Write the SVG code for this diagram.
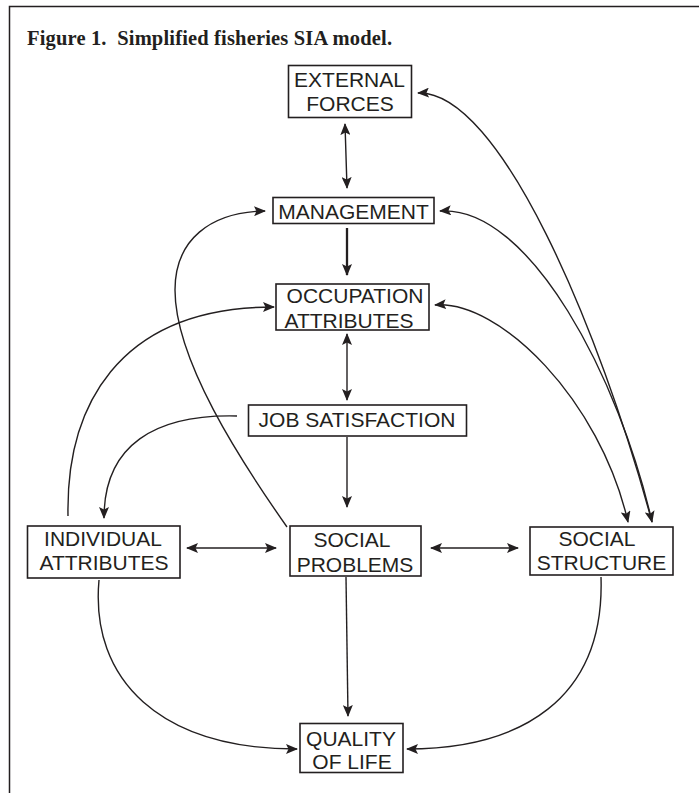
<svg xmlns="http://www.w3.org/2000/svg" width="699" height="793" viewBox="0 0 699 793">
<style>
.bx{fill:#fff;stroke:#231f20;stroke-width:1.6}
.t{font-family:"Liberation Sans",Arial,sans-serif;font-size:21px;fill:#231f20;text-anchor:middle}
.ln{fill:none;stroke:#231f20;stroke-width:1.4}
.one{marker-end:url(#ah)}
.two{marker-start:url(#ah);marker-end:url(#ah)}
</style>
<defs>
<marker id="ah" markerUnits="userSpaceOnUse" viewBox="0 0 12 10" refX="11" refY="5" markerWidth="12" markerHeight="10" orient="auto-start-reverse">
<path d="M0,0 L12,5 L0,10 L2.5,5 z" fill="#231f20"/>
</marker>
</defs>
<rect width="699" height="793" fill="#fff"/>
<path d="M9.5,793 V6.5 H699" fill="none" stroke="#231f20" stroke-width="1.5"/>
<text x="27" y="45" font-family="'Liberation Serif','Times New Roman',serif" font-weight="bold" font-size="20.5" fill="#231f20" textLength="365" lengthAdjust="spacing" xml:space="preserve">Figure 1.  Simplified fisheries SIA model.</text>

<g id="connectors">
<path class="ln two" d="M345,124 L347,188"/>
<path class="ln one" d="M347,228 L347,275" style="stroke-width:2.3"/>
<path class="ln two" d="M347,334 L347,400"/>
<path class="ln one" d="M347,437 L347,507"/>
<path class="ln two" d="M187,548 L276,548"/>
<path class="ln two" d="M431,548 L518,548"/>
<path class="ln one" d="M346,577 L348,716"/>
<path class="ln one" d="M237,416 C155,414 104,445 104,518"/>
<path class="ln one" d="M68,516 C66,410 115,307 274,307"/>
<path class="ln one" d="M287,527 C240,460 175,360 175,290 C175,240 210,212 265,211"/>
<path class="ln two" d="M435,305 C500,300 600,400 628,522"/>
<path class="ln two" d="M440,211 C530,205 620,380 652,522"/>
<path class="ln one" d="M652,522 C600,330 500,90 418,93"/>
<path class="ln one" d="M99,580 C90,680 160,749 297,749"/>
<path class="ln one" d="M601,577 C605,700 520,749 407,749"/>
</g>

<g id="external-forces">
<rect class="bx" x="288.5" y="65.5" width="123" height="52"/>
<text class="t" x="349.5" y="87">EXTERNAL</text>
<text class="t" x="350" y="111">FORCES</text>
</g>
<g id="management">
<rect class="bx" x="273" y="197.5" width="161" height="26"/>
<text class="t" x="353.5" y="219">MANAGEMENT</text>
</g>
<g id="occupation-attributes">
<rect class="bx" x="276" y="284" width="153" height="46"/>
<text class="t" x="355" y="303">OCCUPATION</text>
<text class="t" x="349" y="328">ATTRIBUTES</text>
</g>
<g id="job-satisfaction">
<rect class="bx" x="248.5" y="405" width="218" height="31"/>
<text class="t" x="357" y="427">JOB SATISFACTION</text>
</g>
<g id="individual-attributes">
<rect class="bx" x="27.5" y="526" width="152.5" height="52"/>
<text class="t" x="103" y="546">INDIVIDUAL</text>
<text class="t" x="104" y="570">ATTRIBUTES</text>
</g>
<g id="social-problems">
<rect class="bx" x="290" y="526" width="131" height="50"/>
<text class="t" x="352" y="547">SOCIAL</text>
<text class="t" x="355" y="572">PROBLEMS</text>
</g>
<g id="social-structure">
<rect class="bx" x="530" y="527" width="143" height="48"/>
<text class="t" x="597" y="546">SOCIAL</text>
<text class="t" x="601.5" y="570">STRUCTURE</text>
</g>
<g id="quality-of-life">
<rect class="bx" x="300" y="723.5" width="103" height="49"/>
<text class="t" x="351" y="746">QUALITY</text>
<text class="t" x="352" y="769">OF LIFE</text>
</g>
</svg>
